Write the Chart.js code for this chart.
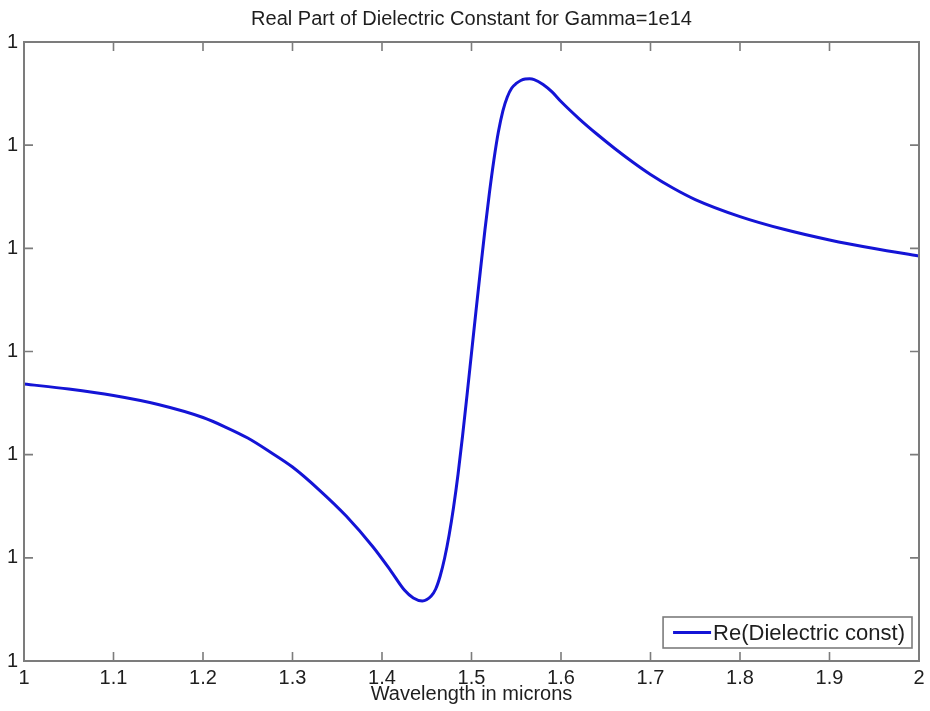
<!DOCTYPE html>
<html>
<head>
<meta charset="utf-8">
<script src="https://cdn.jsdelivr.net/npm/chart.js@4"></script>
<style>
  html, body { margin: 0; padding: 0; background: #fff; }
</style>
</head>
<body>
<canvas id="chart" width="930" height="711"></canvas>
<script>
/* global Chart */

// wavelength samples (microns), denser around the resonance
const wavelengths = [
    1.00, 1.05, 1.10, 1.15, 1.20, 1.225, 1.25, 1.275, 1.30, 1.33,
    1.36, 1.39, 1.41, 1.425, 1.435, 1.445, 1.455, 1.46, 1.465, 1.47,
    1.475, 1.48, 1.485, 1.49, 1.495, 1.50, 1.505, 1.51, 1.515, 1.52,
    1.525, 1.53, 1.535, 1.54, 1.545, 1.55, 1.555, 1.56, 1.565, 1.57,
    1.58, 1.59, 1.60, 1.62, 1.64, 1.66, 1.68, 1.70, 1.725, 1.75,
    1.80, 1.85, 1.90, 1.95, 2.00
];

// real part, in tick steps above the bottom of the axis
const reDielectric = [
    2.685, 2.636, 2.573, 2.486, 2.360, 2.268, 2.161, 2.026, 1.880, 1.657,
    1.405, 1.105, 0.872, 0.688, 0.611, 0.582, 0.630, 0.698, 0.824, 0.998,
    1.221, 1.493, 1.813, 2.181, 2.578, 2.985, 3.392, 3.790, 4.178, 4.536,
    4.856, 5.127, 5.331, 5.467, 5.554, 5.598, 5.627, 5.641, 5.643, 5.636,
    5.588, 5.516, 5.423, 5.258, 5.108, 4.968, 4.837, 4.716, 4.585, 4.473,
    4.308, 4.182, 4.081, 3.998, 3.926
];

const xTicks = [1, 1.1, 1.2, 1.3, 1.4, 1.5, 1.6, 1.7, 1.8, 1.9, 2];
const yTicks = [0, 1, 2, 3, 4, 5, 6];
const yTickLabels = ['1', '1', '1', '1', '1', '1', '1'];

const FONT = 'Liberation Sans, Arial, Helvetica, sans-serif';
const TEXT = '#1e1e1e';
const FRAME = '#7c7c7c';
const LINE = '#1414d6';

// box around the plot, inward ticks on all four sides, legend in lower right
const matlabAxes = {
    id: 'matlabAxes',
    afterDatasetsDraw(chart) {
        const { ctx, chartArea: a, scales: { x, y } } = chart;
        const len = 9;
        ctx.save();
        ctx.strokeStyle = FRAME;
        ctx.lineWidth = 1.6;
        ctx.beginPath();
        x.ticks.forEach(t => {
            const px = x.getPixelForValue(t.value);
            ctx.moveTo(px, a.bottom); ctx.lineTo(px, a.bottom - len);
            ctx.moveTo(px, a.top); ctx.lineTo(px, a.top + len);
        });
        y.ticks.forEach(t => {
            const py = y.getPixelForValue(t.value);
            ctx.moveTo(a.left, py); ctx.lineTo(a.left + len, py);
            ctx.moveTo(a.right, py); ctx.lineTo(a.right - len, py);
        });
        ctx.stroke();
        ctx.lineWidth = 2;
        ctx.strokeRect(a.left, a.top, a.right - a.left, a.bottom - a.top);

        // legend
        const ds = chart.data.datasets[0];
        ctx.font = '22px ' + FONT;
        const tw = ctx.measureText(ds.label).width;
        const boxR = a.right - 7, boxB = a.bottom - 13;
        const boxH = 31, sample = 38, gap = 2, pad = 10;
        const boxW = pad + sample + gap + tw + 7;
        const boxL = boxR - boxW, boxT = boxB - boxH;
        ctx.fillStyle = '#fff';
        ctx.fillRect(boxL, boxT, boxW, boxH);
        ctx.strokeStyle = FRAME;
        ctx.lineWidth = 1.6;
        ctx.strokeRect(boxL, boxT, boxW, boxH);
        const cy = boxT + boxH / 2;
        ctx.strokeStyle = ds.borderColor;
        ctx.lineWidth = 3;
        ctx.beginPath();
        ctx.moveTo(boxL + pad, cy);
        ctx.lineTo(boxL + pad + sample, cy);
        ctx.stroke();
        ctx.fillStyle = TEXT;
        ctx.textBaseline = 'middle';
        ctx.fillText(ds.label, boxL + pad + sample + gap, cy + 1);
        ctx.restore();
    }
};

new Chart(document.getElementById('chart'), {
    type: 'line',
    data: {
        datasets: [{
            label: 'Re(Dielectric const)',
            data: wavelengths.map((w, i) => ({ x: w, y: reDielectric[i] })),
            borderColor: LINE,
            borderWidth: 3,
            pointRadius: 0,
            cubicInterpolationMode: 'monotone',
            fill: false
        }]
    },
    options: {
        responsive: false,
        animation: false,
        layout: { padding: { left: 0, right: 11, top: 0, bottom: 0 } },
        scales: {
            x: {
                type: 'linear',
                min: 1,
                max: 2,
                afterBuildTicks: scale => { scale.ticks = xTicks.map(v => ({ value: v })); },
                afterFit: scale => { scale.height = 50; },
                grid: { display: false, drawTicks: false },
                border: { display: false },
                ticks: {
                    color: TEXT,
                    font: { family: FONT, size: 20 },
                    padding: 5,
                    maxRotation: 0,
                    autoSkip: false,
                    callback: v => String(parseFloat(v.toFixed(1)))
                },
                title: {
                    display: true,
                    text: 'Wavelength in microns',
                    color: TEXT,
                    font: { family: FONT, size: 20 },
                    padding: { top: 0, bottom: 5 }
                }
            },
            y: {
                min: 0,
                max: 6,
                afterBuildTicks: scale => { scale.ticks = yTicks.map(v => ({ value: v })); },
                afterFit: scale => { scale.width = 24; },
                grid: { display: false, drawTicks: false },
                border: { display: false },
                ticks: {
                    color: TEXT,
                    font: { family: FONT, size: 20 },
                    padding: 6,
                    autoSkip: false,
                    callback: (v, i) => yTickLabels[i]
                }
            }
        },
        plugins: {
            legend: { display: false },
            tooltip: { enabled: false },
            title: {
                display: true,
                fullSize: false,
                text: 'Real Part of Dielectric Constant for Gamma=1e14',
                color: TEXT,
                font: { family: FONT, size: 20, weight: 'normal' },
                padding: { top: 7, bottom: 11 }
            }
        }
    },
    plugins: [matlabAxes]
});
</script>
</body>
</html>
